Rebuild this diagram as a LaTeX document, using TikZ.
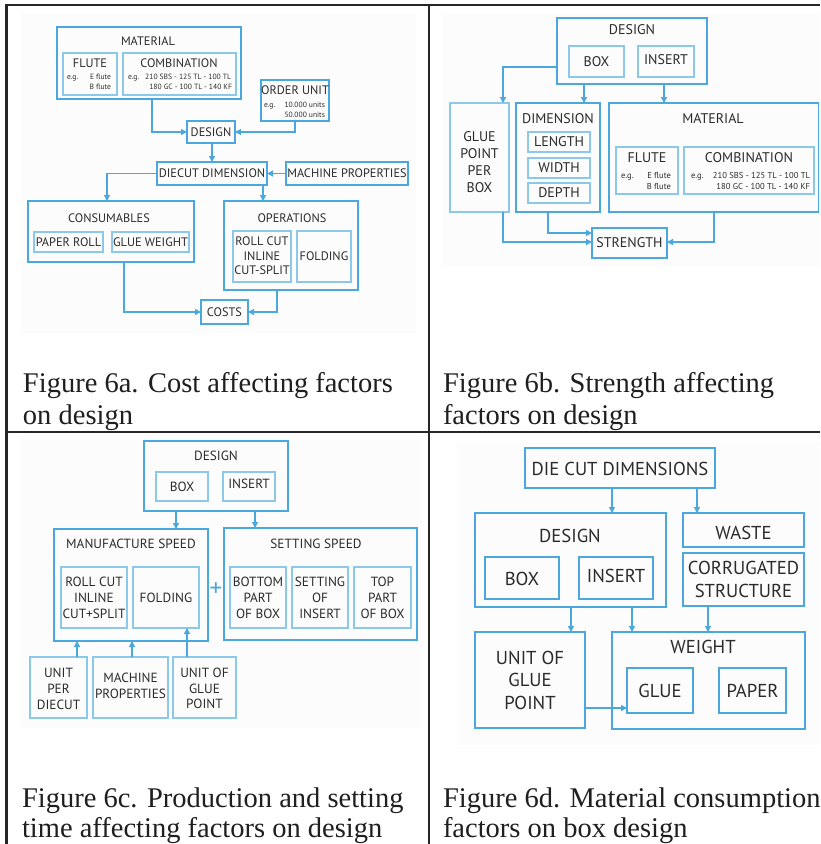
\documentclass[tikz,border=0pt]{standalone}
\usepackage{fontspec}
\setmainfont{Liberation Serif}
\newfontfamily\dsans{PT Sans}
\usetikzlibrary{arrows.meta}
\definecolor{bl}{HTML}{4AA8DC}
\definecolor{bli}{HTML}{8CC8EA}
\definecolor{tc}{HTML}{2B2B2B}
\definecolor{bgc}{HTML}{FCFCFC}
\newcommand\bx[6]{\node[#6, minimum width={(#4)-(#2)}, minimum height={(#5)-(#3)}] (#1) at ({((#2)+(#4))/2},{((#3)+(#5))/2}) {};}
\newcommand\lb[5]{\node[lab,#4] (#1) at (#2,#3) {#5};}
\tikzset{
  box/.style={draw=bl, line width=1.4pt, inner sep=0pt, outer sep=0pt, rectangle},
  tbox/.style={box, line width=2.2pt},
  ibox/.style={draw=bli, line width=1.1pt, inner sep=0pt, outer sep=0pt, rectangle},
  dbox/.style={box, line width=1.2pt},
  arr/.style={draw=bl, line width=1.2pt, -{Triangle[length=6pt,width=6pt]}},
  lab/.style={inner sep=0pt, outer sep=0pt, text=tc, align=center},
  fa/.style={font=\dsans\fontsize{12.3}{14.5}\selectfont},
  fb/.style={font=\dsans\fontsize{14}{17}\selectfont},
  fc/.style={font=\dsans\fontsize{13.3}{15.7}\selectfont},
  fd/.style={font=\dsans\fontsize{18.7}{23}\selectfont},
  sma/.style={lab, font=\dsans\fontsize{7.6}{9}\selectfont},
  smb/.style={lab, font=\dsans\fontsize{8.6}{10}\selectfont},
  capt/.style={inner sep=0pt, outer sep=0pt, anchor=base west, text=black!88, font=\fontsize{28.5}{30}\selectfont},
  tline/.style={line width=2.2pt, draw=black!85},
}
\begin{document}
\begin{tikzpicture}[x=1pt,y=-1pt]
\useasboundingbox (0,0) rectangle (820,844);
\fill[white] (0,0) rectangle (820,844);
% panel backgrounds
\fill[bgc] (21,13) rectangle (416,333);
\fill[bgc] (443,13) rectangle (820,267);
\fill[bgc] (20,435) rectangle (423,728);
\fill[bgc] (457,442) rectangle (820,745);
% table lines
\draw[tline] (6.5,4) -- (6.5,844);
\draw[tline] (5.4,5) -- (820,5);
\draw[tline, line width=1.9pt] (429,5) -- (429,844);
\draw[tline, line width=1.9pt] (6.5,432) -- (820,432);

% ================= Panel a =================
\bx{amat}{57}{27}{241}{99}{box}
\lb{amatl}{148}{41}{fa}{MATERIAL}
\bx{aflu}{63}{53}{117}{95}{ibox}
\lb{aflul}{90}{63.5}{fa}{FLUTE}
\node[sma, anchor=base west] (aeg1) at (67,79.5) {e.g.};
\node[sma, anchor=base east] (aef1) at (111,79.5) {E flute};
\node[sma, anchor=base east] (aef2) at (111,89.5) {B flute};
\bx{acom}{123}{53}{236}{95}{ibox}
\lb{acoml}{179}{63.5}{fa}{COMBINATION}
\node[sma, anchor=base west] (aeg2) at (128,79.5) {e.g.};
\node[sma, anchor=base east] (acm1) at (231,79.5) {210 SBS - 125 TL - 100 TL};
\node[sma, anchor=base east] (acm2) at (232,89.5) {180 GC - 100 TL - 140 KF};
\bx{aord}{261}{80}{329}{121}{box}
\lb{aordl}{295}{90}{fa}{ORDER UNIT}
\node[sma, anchor=base west] (aeg3) at (264,107.5) {e.g.};
\node[sma, anchor=base east] (aou1) at (325,107.5) {10.000 units};
\node[sma, anchor=base east] (aou2) at (325,117.5) {50.000 units};
\bx{ades}{187}{121}{235}{143}{tbox}
\lb{adesl}{211}{132}{fa}{DESIGN}
\bx{adc}{157}{162}{267}{185}{box}
\lb{adcl}{212}{173.5}{fa}{DIECUT DIMENSION}
\bx{amp}{286}{162}{408}{185}{box}
\lb{ampl}{347}{173.5}{fa}{MACHINE PROPERTIES}
\bx{acon}{28}{201}{194}{262}{box}
\lb{aconl}{109}{218}{fa}{CONSUMABLES}
\bx{apr}{34}{232}{103}{252}{ibox}
\lb{aprl}{68.5}{242}{fa}{PAPER ROLL}
\bx{agw}{112}{232}{189}{252}{ibox}
\lb{agwl}{150.5}{242}{fa}{GLUE WEIGHT}
\bx{aops}{224}{201}{358}{290}{box}
\lb{aopsl}{292}{218}{fa}{OPERATIONS}
\bx{arc}{233}{231}{291}{282}{ibox}
\lb{arcl}{262}{256}{fa}{ROLL CUT\\INLINE\\CUT-SPLIT}
\bx{afo}{297}{231}{351}{282}{ibox}
\lb{afol}{324}{256}{fa}{FOLDING}
\bx{acost}{201}{300}{248}{324}{tbox}
\lb{acostl}{224.5}{312}{fa}{COSTS}
% arrows a
\draw[arr] (152,0 |- amat.south) |- (ades.west);
\draw[arr] (295,0 |- aord.south) |- (ades.east);
\draw[arr] (212,0 |- ades.south) -- (212,0 |- adc.north);
\draw[arr] (amp.west) -- (adc.east);
\draw[arr] (adc.west) -| (107,0 |- acon.north);
\draw[arr] (263,0 |- adc.south) -- (263,0 |- aops.north);
\draw[arr] (124,0 |- acon.south) |- (acost.west);
\draw[arr] (277,0 |- aops.south) |- (acost.east);

% ================= Panel b =================
\bx{bdes}{557}{18}{707}{84}{box}
\lb{bdesl}{632}{30}{fb}{DESIGN}
\bx{bbox}{569}{46}{624}{77}{ibox}
\lb{bboxl}{596.5}{62}{fb}{BOX}
\bx{bins}{638}{46}{694}{77}{ibox}
\lb{binsl}{666}{60}{fb}{INSERT}
\bx{bglu}{450}{103}{509}{212}{ibox}
\node[lab, font=\dsans\fontsize{14}{17}\selectfont] (bglul) at (479.5,162.5) {GLUE\\POINT\\PER\\BOX};
\bx{bdim}{516}{103}{600}{212}{box}
\lb{bdiml}{558}{119}{fb}{DIMENSION}
\bx{blen}{528}{132}{590}{152}{ibox}
\lb{blenl}{559}{142}{fb}{LENGTH}
\bx{bwid}{528}{158}{590}{178}{ibox}
\lb{bwidl}{559}{168}{fb}{WIDTH}
\bx{bdep}{528}{183}{590}{203}{ibox}
\lb{bdepl}{559}{193}{fb}{DEPTH}
\bx{bmat}{609}{103}{818.5}{212}{box}
\lb{bmatl}{713}{119}{fb}{MATERIAL}
\bx{bflu}{616}{147}{678}{194}{ibox}
\lb{bflul}{647}{158}{fb}{FLUTE}
\node[smb, anchor=base west] (beg1) at (621,178) {e.g.};
\node[smb, anchor=base east] (bef1) at (671,178) {E flute};
\node[smb, anchor=base east] (bef2) at (671,189) {B flute};
\bx{bcom}{684}{147}{814}{194}{ibox}
\lb{bcoml}{749}{158}{fb}{COMBINATION}
\node[smb, anchor=base west] (beg2) at (691,178) {e.g.};
\node[smb, anchor=base east] (bcm1) at (810,178) {210 SBS - 125 TL - 100 TL};
\node[smb, anchor=base east] (bcm2) at (810,189) {180 GC - 100 TL - 140 KF};
\bx{bstr}{592}{228}{667}{258}{box}
\lb{bstrl}{629.5}{243}{fb}{STRENGTH}
% arrows b
\draw[arr] (bdes.west |- 0,67) -| (503,0 |- bglu.north);
\draw[arr] (584,0 |- bdes.south) -- (584,0 |- bdim.north);
\draw[arr] (664,0 |- bdes.south) -- (664,0 |- bmat.north);
\draw[arr] (503,0 |- bglu.south) |- (bstr.west |- 0,242);
\draw[arr] (548,0 |- bdim.south) |- (bstr.west |- 0,233);
\draw[arr] (714,0 |- bmat.south) |- (bstr.east |- 0,242);

% ================= Panel c =================
\bx{cdes}{144}{441}{288}{511}{box}
\lb{cdesl}{216}{456}{fc}{DESIGN}
\bx{cbox}{156}{472}{208}{501}{ibox}
\lb{cboxl}{182}{487}{fc}{BOX}
\bx{cins}{223}{472}{275}{501}{ibox}
\lb{cinsl}{249}{484}{fc}{INSERT}
\bx{cman}{54}{529}{208}{641}{box}
\lb{cmanl}{131}{544}{fc}{MANUFACTURE SPEED}
\bx{crc}{61}{567}{127}{628}{ibox}
\lb{crcl}{94}{598}{fc}{ROLL CUT\\INLINE\\CUT+SPLIT}
\bx{cfo}{133}{567}{199}{628}{ibox}
\lb{cfol}{166}{598}{fc}{FOLDING}
\node[lab, text=bl, font=\dsans\fontsize{25}{25}\selectfont] (cplus) at (216,590) {+};
\bx{cset}{224}{528}{417}{640}{box}
\lb{csetl}{316}{544}{fc}{SETTING SPEED}
\bx{cbot}{230}{567}{286}{628}{ibox}
\lb{cbotl}{258}{598}{fc}{BOTTOM\\PART\\OF BOX}
\bx{csoi}{292}{567}{348}{628}{ibox}
\lb{csoil}{320}{598}{fc}{SETTING\\OF\\INSERT}
\bx{ctop}{354}{567}{411}{628}{ibox}
\lb{ctopl}{382.5}{598}{fc}{TOP\\PART\\OF BOX}
\bx{cupd}{30}{657}{87}{718}{ibox}
\lb{cupdl}{58.5}{689}{fc}{UNIT\\PER\\DIECUT}
\bx{cmp}{93}{657}{168}{718}{ibox}
\lb{cmpl}{130.5}{686}{fc}{MACHINE\\PROPERTIES}
\bx{cugp}{173}{657}{236}{718}{ibox}
\lb{cugpl}{204.5}{688.5}{fc}{UNIT OF\\GLUE\\POINT}
% arrows c
\draw[arr] (176,0 |- cdes.south) -- (176,0 |- cman.north);
\draw[arr] (255,0 |- cdes.south) -- (255,0 |- cset.north);
\draw[arr] (77,0 |- cupd.north) -- (77,0 |- cman.south);
\draw[arr] (132,0 |- cmp.north) -- (132,0 |- cman.south);
\draw[arr] (187,0 |- cugp.north) -- (187,0 |- cfo.south);

% ================= Panel d =================
\bx{ddcd}{525}{448}{715}{488}{dbox}
\lb{ddcdl}{620}{469}{fd}{DIE CUT DIMENSIONS}
\bx{ddes}{475}{513}{666}{607}{tbox}
\lb{ddesl}{570}{536}{fd}{DESIGN}
\bx{dbox}{485}{557}{559}{599}{dbox}
\lb{dboxl}{522}{579}{fd}{BOX}
\bx{dins}{579}{557}{653}{599}{dbox}
\lb{dinsl}{616}{576}{fd}{INSERT}
\bx{dwas}{683}{513}{804}{547}{dbox}
\lb{dwasl}{743.5}{533}{fd}{WASTE}
\bx{dcor}{683}{553}{804}{606}{dbox}
\lb{dcorl}{743.5}{579.5}{fd}{CORRUGATED\\STRUCTURE}
\bx{dugp}{475}{632}{585}{728}{dbox}
\node[lab, font=\dsans\fontsize{18.7}{22.5}\selectfont] (dugpl) at (530,680) {UNIT OF\\GLUE\\POINT};
\bx{dwt}{612}{632}{805}{729}{tbox}
\lb{dwtl}{703}{647}{fd}{WEIGHT}
\bx{dglu}{627}{668}{693}{713}{dbox}
\lb{dglul}{660}{691}{fd}{GLUE}
\bx{dpap}{719}{668}{786}{713}{dbox}
\lb{dpapl}{752.5}{691}{fd}{PAPER}
% arrows d
\draw[arr] (612,0 |- ddcd.south) -- (612,0 |- ddes.north);
\draw[arr] (697,0 |- ddcd.south) -- (697,0 |- dwas.north);
\draw[arr] (571,0 |- ddes.south) -- (571,0 |- dugp.north);
\draw[arr] (632,0 |- ddes.south) -- (632,0 |- dwt.north);
\draw[arr] (708,0 |- dcor.south) -- (708,0 |- dwt.north);
\draw[arr] (dugp.east |- 0,708) -- (dglu.west |- 0,708);

% ================= Captions =================
\node[capt] (capa1) at (23,392) {Figure 6a. Cost affecting factors};
\node[capt] (capa2) at (23,424) {on design};
\node[capt] (capb1) at (443,392) {Figure 6b. Strength affecting};
\node[capt] (capb2) at (443,424) {factors on design};
\node[capt] (capc1) at (22,807) {Figure 6c. Production and setting};
\node[capt] (capc2) at (22,837) {time affecting factors on design};
\node[capt] (capd1) at (443,807) {Figure 6d. Material consumption};
\node[capt] (capd2) at (443,837) {factors on box design};
\end{tikzpicture}
\end{document}
